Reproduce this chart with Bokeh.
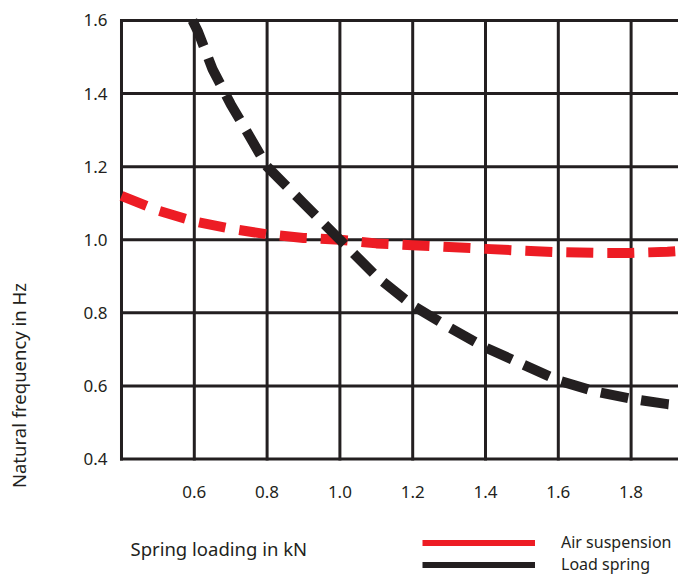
from bokeh.plotting import figure
from bokeh.models import Range1d, FixedTicker, Label, Legend, LegendItem, PrintfTickFormatter
from bokeh.embed import file_html
from bokeh.resources import INLINE
import math

# data
x_ticks = [0.6, 0.8, 1.0, 1.2, 1.4, 1.6, 1.8]
y_ticks = [0.4, 0.6, 0.8, 1.0, 1.2, 1.4, 1.6]

air_x = [0.40, 0.50, 0.60, 0.70, 0.80, 0.90, 1.00, 1.10, 1.20, 1.30, 1.40, 1.50, 1.60, 1.70, 1.80, 1.90, 1.95]
air_y = [1.12, 1.08, 1.05, 1.03, 1.015, 1.005, 1.00, 0.99, 0.985, 0.98, 0.975, 0.97, 0.966, 0.964, 0.964, 0.967, 0.97]

load_x = [0.595, 0.61, 0.65, 0.70, 0.76, 0.80, 0.90, 1.00, 1.10, 1.20, 1.30, 1.40, 1.50, 1.60, 1.70, 1.80, 1.90, 1.95]
load_y = [1.60, 1.57, 1.467, 1.371, 1.269, 1.20, 1.10, 1.00, 0.90, 0.82, 0.76, 0.705, 0.66, 0.615, 0.585, 0.565, 0.55, 0.545]

FONT = "Noto Sans"
INK = "#231f20"
RED = "#ed1c24"

X0, X1 = 0.4, 1.95   # grid extent (x)
Y0, Y1 = 0.4, 1.6    # grid extent (y)

p = figure(width=678, height=576, output_backend="svg", toolbar_location=None,
           x_range=Range1d(0.0676, 1.9302), y_range=Range1d(0.0784, 1.6547),
           min_border_left=0, min_border_top=0, min_border_right=0, min_border_bottom=0)
p.outline_line_color = None
p.background_fill_color = "white"
p.xgrid.visible = False
p.ygrid.visible = False

# grid lines bounded to the chart area
gx = [X0] + x_ticks
p.segment(x0=gx, y0=[Y0 - 0.004] * len(gx), x1=gx, y1=[Y1 + 0.004] * len(gx),
          line_color=INK, line_width=3)
p.segment(x0=[X0 - 0.004] * len(y_ticks), y0=y_ticks, x1=[X1] * len(y_ticks), y1=y_ticks,
          line_color=INK, line_width=3)

# axes pinned at the chart edges
p.xaxis.fixed_location = Y0
p.yaxis.fixed_location = X0
p.xaxis.ticker = FixedTicker(ticks=x_ticks)
p.yaxis.ticker = FixedTicker(ticks=y_ticks)
for ax in (p.xaxis, p.yaxis):
    ax.formatter = PrintfTickFormatter(format="%.1f")
    ax.axis_line_color = None
    ax.major_tick_line_color = None
    ax.minor_tick_line_color = None
    ax.major_tick_out = 0
    ax.major_tick_in = 0
    ax.major_label_text_font = FONT
    ax.major_label_text_font_size = "17px"
    ax.major_label_text_color = INK
p.xaxis.major_label_standoff = 27
p.yaxis.major_label_standoff = 14

p.line(air_x, air_y, line_color=RED, line_width=10, line_dash="27 14")
p.line(load_x, load_y, line_color=INK, line_width=10, line_dash="28 13")

# legend proxies (solid lines as in the reference legend)
r_air = p.line([math.nan], [math.nan], line_color=RED, line_width=6)
r_load = p.line([math.nan], [math.nan], line_color=INK, line_width=6)
legend = Legend(items=[LegendItem(label="Air suspension", renderers=[r_air]),
                       LegendItem(label="Load spring", renderers=[r_load])],
                location=(422, 1), orientation="vertical",
                glyph_width=113, glyph_height=21, label_height=21, spacing=0,
                label_standoff=26, padding=0, margin=0,
                border_line_color=None, background_fill_alpha=0,
                label_text_font=FONT, label_text_font_size="16px", label_text_color=INK)
p.add_layout(legend, "center")

p.add_layout(Label(x=0.4247, y=0.155, text="Spring loading in kN", text_font=FONT,
                   text_font_size="18.5px", text_color=INK, text_baseline="middle", text_align="left"))
p.add_layout(Label(x=0.1184, y=0.601, text="Natural frequency in Hz", text_font=FONT,
                   text_font_size="18.5px", text_color=INK, text_baseline="middle", text_align="center",
                   angle=math.pi / 2))

open("out.html", "w").write(file_html(p, INLINE))
